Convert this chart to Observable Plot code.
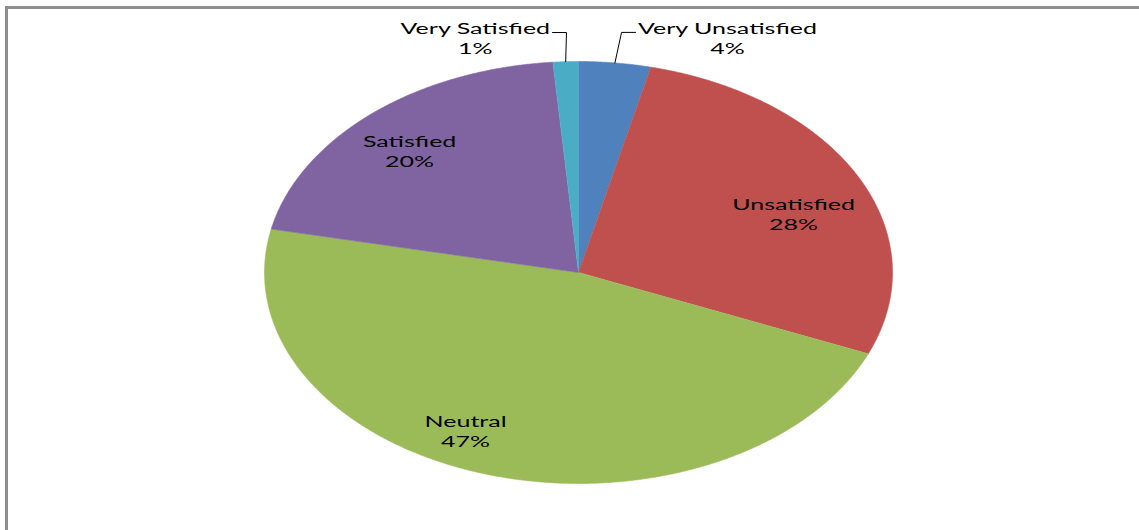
<!DOCTYPE html>
<html>
<head>
<meta charset="utf-8">
<script src="https://cdn.jsdelivr.net/npm/d3@7"></script>
<script src="https://cdn.jsdelivr.net/npm/@observablehq/plot@0.6"></script>
<style>
  html, body { margin: 0; padding: 0; background: #fff; overflow: hidden; }
  #wrap { position: relative; width: 1139px; height: 530px; overflow: hidden; }
  #wrap svg { display: block; max-width: none !important; }
</style>
</head>
<body>
<div id="wrap"></div>
<script>
// ---- data ----
const categories = ["Very Unsatisfied", "Unsatisfied", "Neutral", "Satisfied", "Very Satisfied"];
const values = [3.7, 27.6, 47.0, 20.4, 1.3];
const percentLabels = ["4%", "28%", "47%", "20%", "1%"];
const colors = ["#4F81BD", "#C0504D", "#9BBB59", "#8064A2", "#4BACC6"];

// ---- label layout (polar, relative to slice mid-angle) ----
const labelAngleShift = [16.4, 4.8, 8.4, -1.5, -14.1]; // degrees
const labelRadius = [1.211, 0.74, 0.83, 0.79, 1.161];
const hasLeader = [true, false, false, false, true];

const FONT_FAMILY = "Lato";
const FONT_SIZE = 15;
const STRETCH = 1.67;
const LINE_H = 20;

const W = 1139, H = 530;
const xScaleOpts = {domain: [-1, 1], range: [264, 892]};
const yScaleOpts = {domain: [-1, 1], range: [483, 61]};
const xs = Plot.scale({x: xScaleOpts});
const ys = Plot.scale({y: yScaleOpts});

const arcs = d3.pie().sort(null).value(d => d)(values);

// slice polygons
const slicePts = [];
arcs.forEach((a, i) => {
  slicePts.push({category: categories[i], x: 0, y: 0});
  const n = Math.max(2, Math.ceil((a.endAngle - a.startAngle) / (Math.PI / 720)));
  for (let k = 0; k <= n; k++) {
    const t = a.startAngle + (a.endAngle - a.startAngle) * k / n;
    slicePts.push({category: categories[i], x: Math.sin(t), y: Math.cos(t)});
  }
});

// labels
const labels = arcs.map((a, i) => {
  const mid = (a.startAngle + a.endAngle) / 2 + labelAngleShift[i] * Math.PI / 180;
  return {
    category: categories[i],
    text: categories[i] + "\n" + percentLabels[i],
    x: labelRadius[i] * Math.sin(mid),
    y: labelRadius[i] * Math.cos(mid)
  };
});

// leader lines
const ctx = document.createElement("canvas").getContext("2d");
ctx.font = `${FONT_SIZE}px ${FONT_FAMILY}`;
const leaderPts = [];
arcs.forEach((a, i) => {
  if (!hasLeader[i]) return;
  const mid = (a.startAngle + a.endAngle) / 2;
  const ex = xs.apply(Math.sin(mid)), ey = ys.apply(Math.cos(mid));
  const lx = xs.apply(labels[i].x), ly = ys.apply(labels[i].y);
  const w = ctx.measureText(categories[i]).width * STRETCH;
  const side = lx > ex ? -1 : 1;
  const endX = lx + side * (w / 2 + 2);
  const endY = ly - LINE_H / 2 + 5;
  const elbowX = endX + side * 14;
  [[ex, ey], [elbowX, endY], [endX, endY]].forEach(([px, py]) =>
    leaderPts.push({category: categories[i], x: xs.invert(px), y: ys.invert(py)}));
});

const chart = Plot.plot({
  width: W,
  height: H,
  margin: 0,
  style: {maxWidth: "none"},
  x: {...xScaleOpts, axis: null},
  y: {...yScaleOpts, axis: null},
  color: {domain: categories, range: colors},
  marks: [
    Plot.line(slicePts, {x: "x", y: "y", z: "category", fill: "category", stroke: "category", strokeWidth: 0.6, curve: "linear"}),
    Plot.line(leaderPts, {x: "x", y: "y", z: "category", stroke: "#000", strokeWidth: 1}),
    Plot.text(labels, {x: "x", y: "y", text: "text", fill: "#000", fontFamily: FONT_FAMILY, fontSize: FONT_SIZE,
      lineHeight: LINE_H / FONT_SIZE, lineAnchor: "middle", textAnchor: "middle"})
  ]
});

// chart frame (top and left edges only, as in the reference)
const NS = "http://www.w3.org/2000/svg";
const frame = document.createElementNS(NS, "path");
frame.setAttribute("d", `M6.5,${H + 5} V7.5 H${W + 5}`);
frame.setAttribute("fill", "none");
frame.setAttribute("stroke", "#8e8e8e");
frame.setAttribute("stroke-width", "3");
chart.appendChild(frame);

// stretch label text horizontally like the reference
chart.querySelectorAll('g[aria-label="text"] text').forEach(t => {
  let tr = t.getAttribute("transform") || "";
  if (!/translate/.test(tr)) {
    const x = +(t.getAttribute("x") || 0), y = +(t.getAttribute("y") || 0);
    t.removeAttribute("x"); t.removeAttribute("y");
    t.querySelectorAll("tspan").forEach(s => { if (s.getAttribute("x") !== null) s.setAttribute("x", 0); });
    tr = `translate(${x},${y})`;
  }
  t.setAttribute("transform", tr + ` scale(${STRETCH},1)`);
});

document.getElementById("wrap").appendChild(chart);
</script>
</body>
</html>
